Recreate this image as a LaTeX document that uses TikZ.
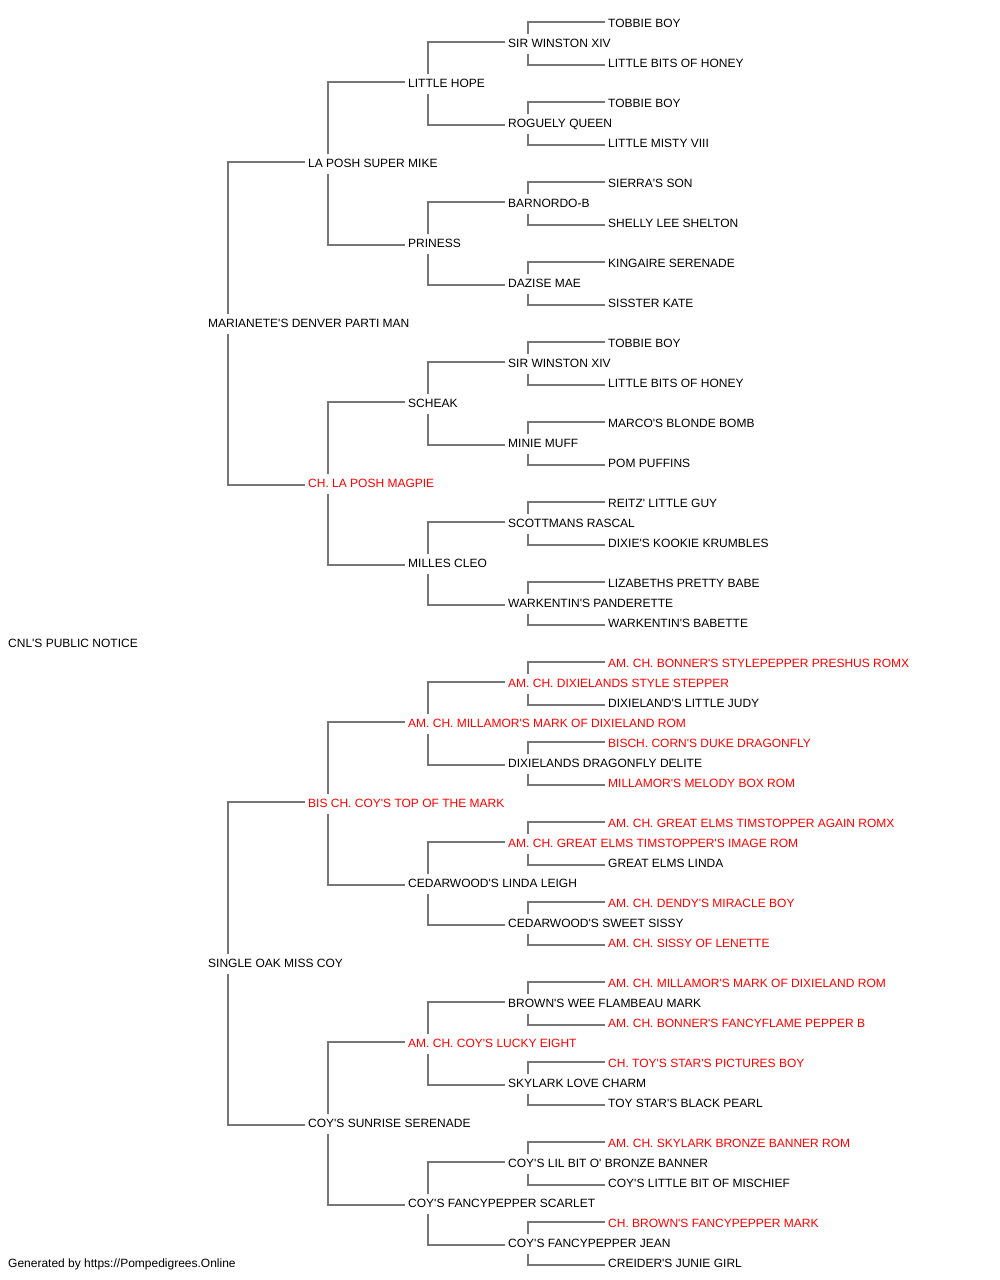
\documentclass[tikz,border=0pt]{standalone}
\usepackage{fontspec}
\setmainfont{Liberation Sans}[Ligatures=TeXOff]
\usetikzlibrary{backgrounds}
\definecolor{pedred}{RGB}{255,0,0}
\definecolor{pedline}{RGB}{118,118,118}

\begin{document}
\begin{tikzpicture}[x=1pt, y=-1pt,
    dog/.style = {anchor=west, fill=white,
        inner xsep=3pt, inner ysep=0pt,
        minimum height=20pt, text height=9pt, text depth=1.8pt,
        font=\fontsize{12}{14}\selectfont},
    champ/.style = {dog, text=pedred},
    link/.style = {draw=pedline, line width=1.5pt}]

\useasboundingbox (0,0) rectangle (1000,1280);

% Dog
\node[dog] (cnl) at (5,643.5) {CNL'S PUBLIC NOTICE};

% Parents
\node[dog] (s) at (205,323.5) {MARIANETE'S DENVER PARTI MAN};
\node[dog] (d) at (205,963.5) {SINGLE OAK MISS COY};

% Grandparents
\node[dog]   (ss) at (305,163.5)  {LA POSH SUPER MIKE};
\node[champ] (sd) at (305,483.5)  {CH. LA POSH MAGPIE};
\node[champ] (ds) at (305,803.5)  {BIS CH. COY'S TOP OF THE MARK};
\node[dog]   (dd) at (305,1123.5) {COY'S SUNRISE SERENADE};

% Great grandparents
\node[dog]   (sss) at (405,83.5)   {LITTLE HOPE};
\node[dog]   (ssd) at (405,243.5)  {PRINESS};
\node[dog]   (sds) at (405,403.5)  {SCHEAK};
\node[dog]   (sdd) at (405,563.5)  {MILLES CLEO};
\node[champ] (dss) at (405,723.5)  {AM. CH. MILLAMOR'S MARK OF DIXIELAND ROM};
\node[dog]   (dsd) at (405,883.5)  {CEDARWOOD'S LINDA LEIGH};
\node[champ] (dds) at (405,1043.5) {AM. CH. COY'S LUCKY EIGHT};
\node[dog]   (ddd) at (405,1203.5) {COY'S FANCYPEPPER SCARLET};

% Great great grandparents
\node[dog]   (ssss) at (505,43.5)   {SIR WINSTON XIV};
\node[dog]   (sssd) at (505,123.5)  {ROGUELY QUEEN};
\node[dog]   (ssds) at (505,203.5)  {BARNORDO-B};
\node[dog]   (ssdd) at (505,283.5)  {DAZISE MAE};
\node[dog]   (sdss) at (505,363.5)  {SIR WINSTON XIV};
\node[dog]   (sdsd) at (505,443.5)  {MINIE MUFF};
\node[dog]   (sdds) at (505,523.5)  {SCOTTMANS RASCAL};
\node[dog]   (sddd) at (505,603.5)  {WARKENTIN'S PANDERETTE};
\node[champ] (dsss) at (505,683.5)  {AM. CH. DIXIELANDS STYLE STEPPER};
\node[dog]   (dssd) at (505,763.5)  {DIXIELANDS DRAGONFLY DELITE};
\node[champ] (dsds) at (505,843.5)  {AM. CH. GREAT ELMS TIMSTOPPER'S IMAGE ROM};
\node[dog]   (dsdd) at (505,923.5)  {CEDARWOOD'S SWEET SISSY};
\node[dog]   (ddss) at (505,1003.5) {BROWN'S WEE FLAMBEAU MARK};
\node[dog]   (ddsd) at (505,1083.5) {SKYLARK LOVE CHARM};
\node[dog]   (ddds) at (505,1163.5) {COY'S LIL BIT O' BRONZE BANNER};
\node[dog]   (dddd) at (505,1243.5) {COY'S FANCYPEPPER JEAN};

% Fifth generation
\node[dog]   (sssss) at (605,23.5)   {TOBBIE BOY};
\node[dog]   (ssssd) at (605,63.5)   {LITTLE BITS OF HONEY};
\node[dog]   (sssds) at (605,103.5)  {TOBBIE BOY};
\node[dog]   (sssdd) at (605,143.5)  {LITTLE MISTY VIII};
\node[dog]   (ssdss) at (605,183.5)  {SIERRA'S SON};
\node[dog]   (ssdsd) at (605,223.5)  {SHELLY LEE SHELTON};
\node[dog]   (ssdds) at (605,263.5)  {KINGAIRE SERENADE};
\node[dog]   (ssddd) at (605,303.5)  {SISSTER KATE};
\node[dog]   (sdsss) at (605,343.5)  {TOBBIE BOY};
\node[dog]   (sdssd) at (605,383.5)  {LITTLE BITS OF HONEY};
\node[dog]   (sdsds) at (605,423.5)  {MARCO'S BLONDE BOMB};
\node[dog]   (sdsdd) at (605,463.5)  {POM PUFFINS};
\node[dog]   (sddss) at (605,503.5)  {REITZ' LITTLE GUY};
\node[dog]   (sddsd) at (605,543.5)  {DIXIE'S KOOKIE KRUMBLES};
\node[dog]   (sddds) at (605,583.5)  {LIZABETHS PRETTY BABE};
\node[dog]   (sdddd) at (605,623.5)  {WARKENTIN'S BABETTE};
\node[champ] (dssss) at (605,663.5)  {AM. CH. BONNER'S STYLEPEPPER PRESHUS ROMX};
\node[dog]   (dsssd) at (605,703.5)  {DIXIELAND'S LITTLE JUDY};
\node[champ] (dssds) at (605,743.5)  {BISCH. CORN'S DUKE DRAGONFLY};
\node[champ] (dssdd) at (605,783.5)  {MILLAMOR'S MELODY BOX ROM};
\node[champ] (dsdss) at (605,823.5)  {AM. CH. GREAT ELMS TIMSTOPPER AGAIN ROMX};
\node[dog]   (dsdsd) at (605,863.5)  {GREAT ELMS LINDA};
\node[champ] (dsdds) at (605,903.5)  {AM. CH. DENDY'S MIRACLE BOY};
\node[champ] (dsddd) at (605,943.5)  {AM. CH. SISSY OF LENETTE};
\node[champ] (ddsss) at (605,983.5)  {AM. CH. MILLAMOR'S MARK OF DIXIELAND ROM};
\node[champ] (ddssd) at (605,1023.5) {AM. CH. BONNER'S FANCYFLAME PEPPER B};
\node[champ] (ddsds) at (605,1063.5) {CH. TOY'S STAR'S PICTURES BOY};
\node[dog]   (ddsdd) at (605,1103.5) {TOY STAR'S BLACK PEARL};
\node[champ] (dddss) at (605,1143.5) {AM. CH. SKYLARK BRONZE BANNER ROM};
\node[dog]   (dddsd) at (605,1183.5) {COY'S LITTLE BIT OF MISCHIEF};
\node[champ] (dddds) at (605,1223.5) {CH. BROWN'S FANCYPEPPER MARK};
\node[dog]   (ddddd) at (605,1263.5) {CREIDER'S JUNIE GIRL};

% Footer
\node[dog, fill=none] (credit) at (5,1263.5) {Generated by https://Pompedigrees.Online};

% Brackets behind the names
\begin{scope}[on background layer]
\draw[link] ([yshift=1.3pt]ss.west) -| ([xshift=23pt]s.west) |- ([yshift=-1.3pt]sd.west);
\draw[link] ([yshift=1.3pt]ds.west) -| ([xshift=23pt]d.west) |- ([yshift=-1.3pt]dd.west);

\draw[link] ([yshift=1.3pt]sss.west) -| ([xshift=23pt]ss.west) |- ([yshift=-1.3pt]ssd.west);
\draw[link] ([yshift=1.3pt]sds.west) -| ([xshift=23pt]sd.west) |- ([yshift=-1.3pt]sdd.west);
\draw[link] ([yshift=1.3pt]dss.west) -| ([xshift=23pt]ds.west) |- ([yshift=-1.3pt]dsd.west);
\draw[link] ([yshift=1.3pt]dds.west) -| ([xshift=23pt]dd.west) |- ([yshift=-1.3pt]ddd.west);

\draw[link] ([yshift=1.3pt]ssss.west) -| ([xshift=23pt]sss.west) |- ([yshift=-1.3pt]sssd.west);
\draw[link] ([yshift=1.3pt]ssds.west) -| ([xshift=23pt]ssd.west) |- ([yshift=-1.3pt]ssdd.west);
\draw[link] ([yshift=1.3pt]sdss.west) -| ([xshift=23pt]sds.west) |- ([yshift=-1.3pt]sdsd.west);
\draw[link] ([yshift=1.3pt]sdds.west) -| ([xshift=23pt]sdd.west) |- ([yshift=-1.3pt]sddd.west);
\draw[link] ([yshift=1.3pt]dsss.west) -| ([xshift=23pt]dss.west) |- ([yshift=-1.3pt]dssd.west);
\draw[link] ([yshift=1.3pt]dsds.west) -| ([xshift=23pt]dsd.west) |- ([yshift=-1.3pt]dsdd.west);
\draw[link] ([yshift=1.3pt]ddss.west) -| ([xshift=23pt]dds.west) |- ([yshift=-1.3pt]ddsd.west);
\draw[link] ([yshift=1.3pt]ddds.west) -| ([xshift=23pt]ddd.west) |- ([yshift=-1.3pt]dddd.west);

\draw[link] ([yshift=1.3pt]sssss.west) -| ([xshift=23pt]ssss.west) |- ([yshift=-1.3pt]ssssd.west);
\draw[link] ([yshift=1.3pt]sssds.west) -| ([xshift=23pt]sssd.west) |- ([yshift=-1.3pt]sssdd.west);
\draw[link] ([yshift=1.3pt]ssdss.west) -| ([xshift=23pt]ssds.west) |- ([yshift=-1.3pt]ssdsd.west);
\draw[link] ([yshift=1.3pt]ssdds.west) -| ([xshift=23pt]ssdd.west) |- ([yshift=-1.3pt]ssddd.west);
\draw[link] ([yshift=1.3pt]sdsss.west) -| ([xshift=23pt]sdss.west) |- ([yshift=-1.3pt]sdssd.west);
\draw[link] ([yshift=1.3pt]sdsds.west) -| ([xshift=23pt]sdsd.west) |- ([yshift=-1.3pt]sdsdd.west);
\draw[link] ([yshift=1.3pt]sddss.west) -| ([xshift=23pt]sdds.west) |- ([yshift=-1.3pt]sddsd.west);
\draw[link] ([yshift=1.3pt]sddds.west) -| ([xshift=23pt]sddd.west) |- ([yshift=-1.3pt]sdddd.west);
\draw[link] ([yshift=1.3pt]dssss.west) -| ([xshift=23pt]dsss.west) |- ([yshift=-1.3pt]dsssd.west);
\draw[link] ([yshift=1.3pt]dssds.west) -| ([xshift=23pt]dssd.west) |- ([yshift=-1.3pt]dssdd.west);
\draw[link] ([yshift=1.3pt]dsdss.west) -| ([xshift=23pt]dsds.west) |- ([yshift=-1.3pt]dsdsd.west);
\draw[link] ([yshift=1.3pt]dsdds.west) -| ([xshift=23pt]dsdd.west) |- ([yshift=-1.3pt]dsddd.west);
\draw[link] ([yshift=1.3pt]ddsss.west) -| ([xshift=23pt]ddss.west) |- ([yshift=-1.3pt]ddssd.west);
\draw[link] ([yshift=1.3pt]ddsds.west) -| ([xshift=23pt]ddsd.west) |- ([yshift=-1.3pt]ddsdd.west);
\draw[link] ([yshift=1.3pt]dddss.west) -| ([xshift=23pt]ddds.west) |- ([yshift=-1.3pt]dddsd.west);
\draw[link] ([yshift=1.3pt]dddds.west) -| ([xshift=23pt]dddd.west) |- ([yshift=-1.3pt]ddddd.west);
\end{scope}
\end{tikzpicture}
\end{document}
